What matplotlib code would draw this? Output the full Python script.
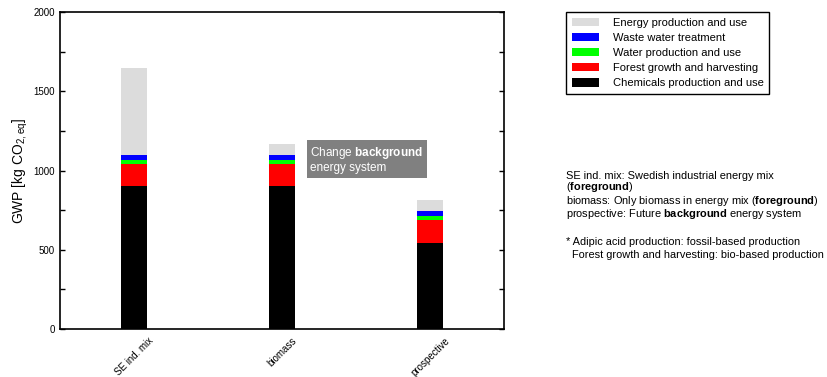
import numpy as np
import matplotlib
matplotlib.use("Agg")
import matplotlib.pyplot as plt
from matplotlib.patches import Patch

plt.rcParams['font.family'] = ['Liberation Sans', 'DejaVu Sans']
plt.rcParams['mathtext.fontset'] = 'custom'
plt.rcParams['mathtext.rm'] = 'Liberation Sans'
plt.rcParams['mathtext.it'] = 'Liberation Sans:italic'
plt.rcParams['mathtext.bf'] = 'Liberation Sans:bold'

# data
scenarios = ['SE ind. mix', 'biomass', 'prospective']
chemicals = [900, 900, 545]
forest = [140, 140, 143]
water = [25, 25, 27]
waste_water = [30, 30, 31]
energy = [552, 72, 68]

series = [
    ('Chemicals production and use', chemicals, '#000000'),
    ('Forest growth and harvesting', forest, '#ff0000'),
    ('Water production and use', water, '#00ff00'),
    ('Waste water treatment', waste_water, '#0000ff'),
    ('Energy production and use', energy, '#dcdcdc'),
]


def main():
    fig = plt.figure(figsize=(8.28, 3.77), dpi=100)
    ax = fig.add_axes([0.0725, 0.1273, 0.5362, 0.8408])

    x = np.arange(len(scenarios))
    bottom = np.zeros(len(scenarios))
    for label, vals, col in series:
        ax.bar(x, vals, width=0.17, bottom=bottom, color=col, label=label)
        bottom += np.array(vals)

    ax.set_xlim(-0.5, 2.5)
    ax.set_ylim(0, 2000)
    ax.set_yticks(np.arange(0, 2001, 500))
    ax.set_yticks(np.arange(0, 2001, 250), minor=True)
    ax.tick_params(axis='y', which='both', direction='in', left=True, right=True,
                   length=3.6, width=1, labelsize=7)
    ax.set_xticks(x)
    ax.set_xticklabels(scenarios, rotation=45, ha='center', fontsize=7)
    ax.tick_params(axis='x', length=0, pad=5)
    for s in ax.spines.values():
        s.set_linewidth(1.2)
    ax.set_ylabel('GWP [kg CO$_{\\mathrm{2,eq}}$]', fontsize=10, labelpad=3)

    ax.text(1.19, 1068, 'Change $\\bf{background}$\nenergy system', fontsize=8.5,
            color='white', va='center', ha='left', linespacing=1.15,
            bbox=dict(boxstyle='square,pad=0.3', facecolor='#808080', edgecolor='none'))

    handles = [Patch(facecolor=c, edgecolor='none') for _, _, c in series][::-1]
    labels = [l for l, _, _ in series][::-1]
    leg = fig.legend(handles, labels, loc='upper left',
                     bbox_to_anchor=(566 / 828, 1 - 12 / 377), fontsize=8,
                     fancybox=False, edgecolor='black', framealpha=1,
                     handlelength=2.5, handleheight=0.8, handletextpad=1.2,
                     labelspacing=0.45, borderpad=0.5, borderaxespad=0)
    leg.get_frame().set_linewidth(1.0)

    notes = [
        (176, 'SE ind. mix: Swedish industrial energy mix'),
        (187, '($\\bf{foreground}$)'),
        (201, 'biomass: Only biomass in energy mix ($\\bf{foreground}$)'),
        (214, 'prospective: Future $\\bf{background}$ energy system'),
        (242, '* Adipic acid production: fossil-based production'),
        (255, '  Forest growth and harvesting: bio-based production'),
    ]
    for ypix, txt in notes:
        fig.text(566 / 828, 1 - ypix / 377, txt, fontsize=7.9, va='center', ha='left')

    fig.savefig('out.png', dpi=100)


if __name__ == "__main__":
    main()
